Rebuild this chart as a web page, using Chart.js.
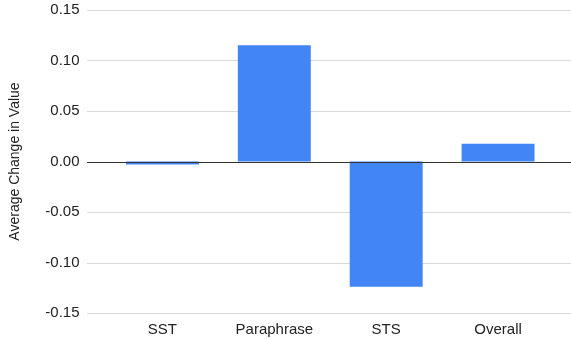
<!DOCTYPE html>
<html>
<head>
<meta charset="utf-8">
<script src="https://cdn.jsdelivr.net/npm/chart.js@4/dist/chart.umd.min.js"></script>
<style>
  html, body { margin: 0; padding: 0; background: #fff; }
  #wrap { width: 571px; height: 339px; position: relative; }
</style>
</head>
<body>
<div id="wrap"><canvas id="c" width="571" height="339"></canvas></div>
<script>
const categories = ["SST", "Paraphrase", "STS", "Overall"];
const averageChange = [-0.003, 0.115, -0.124, 0.0175];
const yTickValues = [-0.15, -0.10, -0.05, 0.00, 0.05, 0.10, 0.15];
const yAxisTitle = "Average Change in Value";

const gridPlugin = {
  id: 'extGrid',
  beforeDatasetsDraw(chart) {
    const ctx = chart.ctx, y = chart.scales.y, a = chart.chartArea;
    ctx.save();
    ctx.strokeStyle = '#d9d9d9';
    ctx.lineWidth = 1;
    yTickValues.forEach(v => {
      if (v === 0) return;
      const py = Math.round(y.getPixelForValue(v)) + 0.5;
      ctx.beginPath();
      ctx.moveTo(a.left - 19.5, py);
      ctx.lineTo(chart.width, py);
      ctx.stroke();
    });
    ctx.restore();
  },
  afterDatasetsDraw(chart) {
    const ctx = chart.ctx, y = chart.scales.y, a = chart.chartArea;
    ctx.save();
    ctx.strokeStyle = '#333333';
    ctx.lineWidth = 1;
    const py = Math.round(y.getPixelForValue(0)) + 0.5;
    ctx.beginPath();
    ctx.moveTo(a.left - 19.5, py);
    ctx.lineTo(chart.width, py);
    ctx.stroke();
    ctx.restore();
  }
};

new Chart(document.getElementById('c'), {
  type: 'bar',
  data: {
    labels: categories,
    datasets: [{
      data: averageChange,
      backgroundColor: '#4285F4',
      borderWidth: 0,
      categoryPercentage: 1,
      barPercentage: 0.652
    }]
  },
  options: {
    responsive: false,
    animation: false,
    devicePixelRatio: 1,
    layout: { padding: { top: 10, right: 17, bottom: 0, left: 0 } },
    plugins: { legend: { display: false }, tooltip: { enabled: false } },
    scales: {
      x: {
        grid: { display: false, drawTicks: false },
        border: { display: false },
        ticks: { color: '#222', font: { family: 'Liberation Sans', size: 15 }, padding: 8 },
        afterFit(s) { s.height = 26; s.paddingLeft = 0; s.paddingRight = 0; }
      },
      y: {
        min: -0.15, max: 0.15,
        grid: { display: false, drawTicks: false },
        border: { display: false },
        afterBuildTicks(s) { s.ticks = yTickValues.map(v => ({ value: v })); },
        ticks: {
          color: '#222',
          font: { family: 'Liberation Sans', size: 15 },
          padding: 27,
          callback: v => v.toFixed(2)
        },
        title: {
          display: true,
          text: yAxisTitle,
          color: '#222',
          font: { family: 'Liberation Sans', size: 14 },
          padding: { top: 7, bottom: 0 }
        },
        afterFit(s) { s.width = 106.5; s.paddingTop = 0; s.paddingBottom = 0; }
      }
    }
  },
  plugins: [gridPlugin]
});
</script>
</body>
</html>
